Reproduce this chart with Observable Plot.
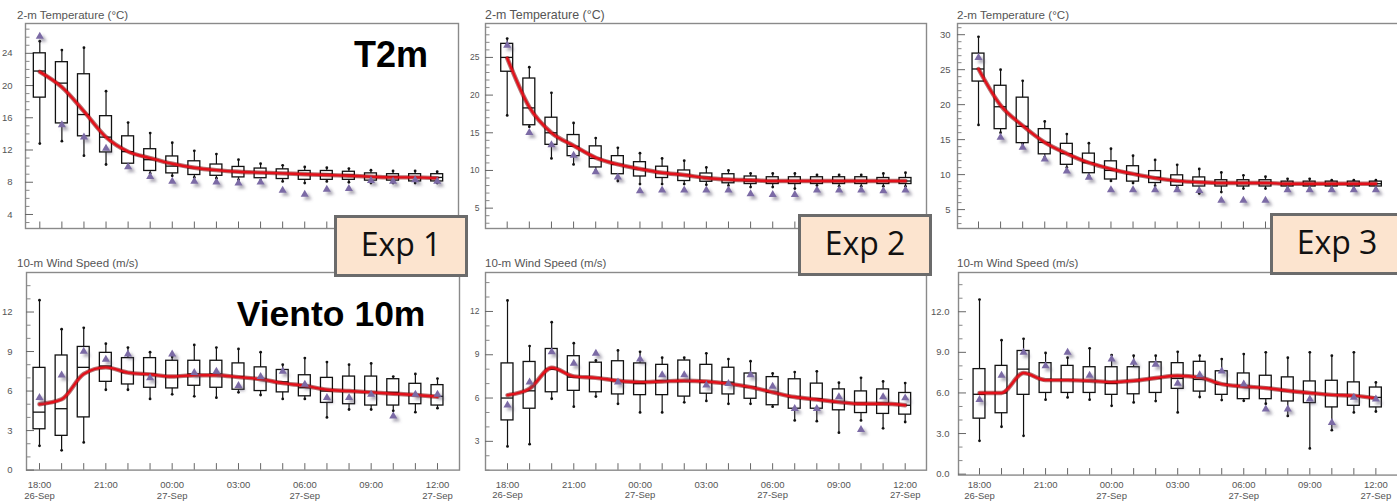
<!DOCTYPE html>
<html><head><meta charset="utf-8">
<script src="https://cdn.jsdelivr.net/npm/d3@7"></script>
<script src="https://cdn.jsdelivr.net/npm/@observablehq/plot@0.6"></script>
<style>
body{margin:0;background:#fff;}
#root{position:relative;width:1397px;height:501px;overflow:hidden;background:#fff;font-family:"Liberation Sans",Arial,sans-serif;}
.ptitle{position:absolute;color:#555;white-space:nowrap;line-height:1;}
.exp{position:absolute;width:128px;height:56px;background:#fce4cf;border:3px solid #6b6b6b;font-family:"Open Sans",sans-serif;font-size:32px;color:#111;display:flex;align-items:center;justify-content:center;box-sizing:content-box;}
.exp span{position:relative;top:-3px;}
.big{position:absolute;font-weight:bold;line-height:1;color:#000;white-space:nowrap;}
</style></head><body><div id="root"></div><script>
// ---- categories ----
const times = ["18:00","19:00","20:00","21:00","22:00","23:00","00:00","01:00","02:00","03:00","04:00","05:00","06:00","07:00","08:00","09:00","10:00","11:00","12:00"];
const xTickLabels = ["18:00\n26-Sep","21:00","00:00\n27-Sep","03:00","06:00\n27-Sep","09:00","12:00\n27-Sep"];
const xTickLabelAt = ["18:00","21:00","00:00","03:00","06:00","09:00","12:00"];

// ---- tick labels ----
const t2m1Ticks = [4,8,12,16,20,24];
const t2m2Ticks = [5,10,15,20,25];
const t2m3Ticks = [5,10,15,20,25,30];
const wind1Ticks = [0,3,6,9,12];
const wind2Ticks = [3,6,9,12];
const wind3Ticks = [0,3,6,9,12];

// ---- Exp 1, 2-m temperature ----
const t2m1Hi   = [25.5,24.4,24.7,19.3,15.4,14.1,12.9,11.9,11.5,10.8,10.3,10.1,9.9,9.8,9.7,9.5,9.4,9.4,9.3];
const t2m1Q3   = [24.0,22.9,21.4,16.2,13.7,12.1,11.2,10.6,10.2,9.9,9.7,9.6,9.4,9.4,9.3,9.1,9.0,9.0,9.0];
const t2m1Med  = [21.8,20.3,16.4,13.6,11.8,10.8,10.0,9.8,9.5,9.3,9.2,9.1,9.0,9.0,8.9,8.7,8.7,8.6,8.6];
const t2m1Q1   = [18.5,15.3,13.7,11.7,10.3,9.4,9.1,8.9,8.8,8.6,8.5,8.4,8.3,8.3,8.3,8.2,8.2,8.1,8.1];
const t2m1Lo   = [12.8,13.1,11.3,10.2,9.9,9.1,8.8,8.6,8.5,8.3,8.2,8.1,7.9,8.1,8.0,7.9,7.9,7.9,7.9];
const t2m1Obs  = [26.1,15.1,13.6,12.2,9.9,8.7,8.1,8.1,8.0,7.9,8.0,7.0,6.5,7.1,7.2,8.2,8.1,8.3,8.1];
const t2m1Mean = [21.7,19.8,16.8,13.6,11.8,11.0,10.3,9.8,9.5,9.3,9.2,9.1,9.0,8.9,8.8,8.7,8.6,8.6,8.5];

// ---- Exp 1, 10-m wind ----
const wind1Hi   = [12.9,10.7,10.8,9.6,9.3,8.95,8.6,9.5,9.3,9.2,8.95,8.0,8.5,8.2,8.0,8.1,7.1,7.3,6.95];
const wind1Q3   = [7.76,8.7,9.35,8.9,8.5,8.5,8.3,8.3,8.3,8.1,7.8,7.6,7.2,7.0,7.1,7.1,6.9,6.55,6.45];
const wind1Med  = [4.4,4.66,7.8,7.9,7.4,7.3,7.1,7.3,7.3,7.1,6.9,6.7,6.25,6.0,6.0,5.9,5.9,5.7,5.6];
const wind1Q1   = [3.1,2.6,4.0,6.7,6.5,6.25,6.2,6.4,6.25,6.1,6.0,5.9,5.6,5.1,5.0,4.9,4.9,5.0,4.9];
const wind1Lo   = [1.84,1.5,2.1,6.1,6.1,5.4,5.75,5.6,5.5,5.9,5.7,5.4,5.4,4.0,4.6,4.6,4.5,4.4,4.7];
const wind1Obs  = [5.5,7.2,9.0,8.4,8.8,7.0,8.8,7.4,7.5,6.4,7.1,7.5,6.5,5.5,5.5,5.75,4.1,5.75,5.75];
const wind1Mean = [5.0,5.37,7.3,7.8,7.4,7.26,7.1,7.2,7.2,7.06,6.9,6.6,6.4,6.1,6.0,5.9,5.8,5.7,5.57];

// ---- Exp 2, 2-m temperature ----
const t2m2Hi   = [27.5,23.7,20.3,16.3,14.3,13.0,12.3,11.6,11.3,10.4,10.0,9.6,9.6,9.6,9.4,9.4,9.4,9.6,9.7];
const t2m2Q3   = [26.8,22.2,17.0,14.7,13.2,11.9,11.1,10.5,10.0,9.6,9.5,9.2,9.1,9.1,9.1,9.1,9.1,9.0,9.0];
const t2m2Med  = [25.0,18.3,15.0,13.2,11.6,10.8,10.2,9.7,9.4,9.1,8.8,8.6,8.6,8.6,8.6,8.6,8.6,8.6,8.6];
const t2m2Q1   = [23.1,16.0,13.4,11.9,10.4,9.5,9.2,9.0,8.6,8.5,8.3,8.2,8.2,8.2,8.2,8.2,8.2,8.2,8.2];
const t2m2Lo   = [17.3,15.8,11.6,10.8,10.0,8.6,8.2,8.2,8.2,8.1,8.0,7.8,7.8,7.6,8.0,7.9,7.9,7.9,7.9];
const t2m2Obs  = [26.6,15.0,13.4,12.0,9.8,9.1,7.3,7.4,7.4,7.4,7.4,6.9,6.8,6.8,7.4,7.4,7.4,7.3,7.4];
const t2m2Mean = [24.9,18.4,15.0,13.3,11.7,10.8,10.2,9.7,9.4,9.0,8.8,8.7,8.6,8.6,8.6,8.6,8.6,8.6,8.6];

// ---- Exp 2, 10-m wind ----
const wind2Hi   = [12.76,9.6,11.26,9.8,8.6,9.3,9.2,8.8,8.8,9.1,8.7,8.55,7.7,7.8,7.85,7.06,7.4,7.15,7.04];
const wind2Q3   = [8.4,8.5,9.4,8.9,8.45,8.55,8.4,8.3,8.6,8.3,8.1,7.7,7.45,7.3,7.0,6.6,6.46,6.6,6.35];
const wind2Med  = [6.0,6.5,8.0,7.45,7.4,7.2,7.0,7.2,7.2,7.1,7.1,6.76,6.4,6.07,5.95,5.7,5.65,5.65,5.5];
const wind2Q1   = [4.45,5.26,6.4,6.5,6.4,6.25,6.2,6.2,6.1,6.3,6.25,5.95,5.5,5.26,5.26,5.15,4.96,4.9,4.85];
const wind2Lo   = [2.65,2.8,5.95,5.4,6.1,5.6,5.0,5.0,5.7,5.8,5.6,5.6,5.4,4.45,4.4,3.6,4.45,3.9,4.34];
const wind2Obs  = [5.5,7.1,9.2,8.4,9.1,7.1,8.7,7.6,7.6,6.9,7.0,7.6,6.8,5.26,5.26,6.07,3.8,6.07,6.0];
const wind2Mean = [6.2,6.65,8.1,7.5,7.4,7.2,7.1,7.15,7.2,7.15,7.0,6.76,6.4,6.07,5.9,5.72,5.6,5.6,5.5];

// ---- Exp 3, 2-m temperature ----
const t2m3Hi   = [29.7,25.0,23.4,17.6,15.8,14.5,13.7,12.7,12.1,11.4,10.8,10.3,9.9,9.7,9.4,9.4,9.2,9.2,9.2];
const t2m3Q3   = [27.3,22.7,21.0,16.5,14.4,13.0,11.9,11.2,10.5,9.9,9.6,9.2,9.2,9.2,9.0,9.0,9.0,9.0,9.0];
const t2m3Med  = [25.1,19.7,16.9,14.6,13.0,11.7,10.6,10.1,9.6,9.1,8.9,8.8,8.8,8.8,8.7,8.7,8.7,8.7,8.7];
const t2m3Q1   = [23.3,16.5,14.5,12.9,11.4,10.2,9.3,9.0,8.8,8.4,8.3,8.3,8.3,8.3,8.3,8.3,8.3,8.3,8.3];
const t2m3Lo   = [17.1,16.0,14.4,12.5,11.0,9.9,9.1,8.8,8.4,8.2,7.3,7.5,8.0,8.0,8.0,8.0,8.0,8.0,8.0];
const t2m3Obs  = [26.7,15.3,13.9,12.2,10.5,9.6,7.8,7.8,7.8,7.8,7.7,6.3,6.3,6.3,7.8,7.8,7.8,7.8,7.8];
const t2m3Mean = [25.1,19.9,17.0,14.6,13.0,11.7,10.8,10.1,9.5,9.1,8.9,8.8,8.8,8.8,8.7,8.7,8.7,8.7,8.7];

// ---- Exp 3, 10-m wind ----
const wind3Hi   = [12.9,9.9,10.0,8.95,8.6,9.3,8.8,8.75,8.75,9.04,8.75,8.5,8.87,9.0,8.6,9.0,8.75,9.0,6.78];
const wind3Q3   = [7.76,8.0,9.1,8.2,8.0,7.9,7.9,7.9,8.26,8.2,8.3,7.6,7.44,7.27,7.15,6.85,6.9,6.78,6.4];
const wind3Med  = [5.9,6.0,7.76,7.0,6.95,6.9,6.7,6.9,7.07,7.07,7.0,6.65,6.48,6.4,6.16,6.0,5.86,5.8,5.67];
const wind3Q1   = [4.1,4.5,5.86,6.0,6.0,6.0,5.86,5.9,6.0,6.3,6.1,5.86,5.54,5.54,5.37,5.25,4.93,5.05,4.93];
const wind3Lo   = [2.46,3.5,2.83,5.5,5.67,5.5,5.05,5.3,5.4,4.56,5.7,5.47,5.42,5.2,4.3,1.9,3.25,4.56,4.63];
const wind3Obs  = [5.5,7.3,9.0,8.0,9.0,7.3,8.5,8.25,8.1,6.7,7.34,7.6,6.65,4.8,4.8,5.54,3.8,5.67,5.54];
const wind3Mean = [6.0,6.0,7.47,6.95,6.95,6.9,6.8,6.9,7.1,7.27,7.15,6.65,6.48,6.36,6.16,6.0,5.86,5.8,5.6];

// ---- layout (pixels) ----
const root = document.getElementById("root");
const panels = [
  {FL:25, FR:458, FT:23, FB:228, t0:39.3, t18:436.7, yd:[2.26,27.7], ticks:t2m1Ticks, pad:13, fs:9.5, fmt:d=>String(d),
   s:{hi:t2m1Hi,q3:t2m1Q3,med:t2m1Med,q1:t2m1Q1,lo:t2m1Lo,obs:t2m1Obs,mean:t2m1Mean},
   title:"2-m Temperature (°C)", tx:17, tb:19.5, tfs:11.5, bottom:false},
  {FL:26, FR:459, FT:271.7, FB:469.3, t0:39, t18:437, yd:[0,15], ticks:wind1Ticks, pad:14, fs:9.5, fmt:d=>String(d),
   s:{hi:wind1Hi,q3:wind1Q3,med:wind1Med,q1:wind1Q1,lo:wind1Lo,obs:wind1Obs,mean:wind1Mean},
   title:"10-m Wind Speed (m/s)", tx:17, tb:267.5, tfs:11.5, bottom:true},
  {FL:485, FR:926, FT:22.7, FB:227.7, t0:506.7, t18:905, yd:[2.3,29.5], ticks:t2m2Ticks, pad:6, fs:8.5, fmt:d=>String(d),
   s:{hi:t2m2Hi,q3:t2m2Q3,med:t2m2Med,q1:t2m2Q1,lo:t2m2Lo,obs:t2m2Obs,mean:t2m2Mean},
   title:"2-m Temperature (°C)", tx:485, tb:19, tfs:12.4, bottom:false},
  {FL:485, FR:926, FT:272.3, FB:470, t0:507, t18:904.7, yd:[1.0,14.7], ticks:wind2Ticks, pad:6, fs:8.5, fmt:d=>String(d),
   s:{hi:wind2Hi,q3:wind2Q3,med:wind2Med,q1:wind2Q1,lo:wind2Lo,obs:wind2Obs,mean:wind2Mean},
   title:"10-m Wind Speed (m/s)", tx:485, tb:267.5, tfs:11.5, bottom:true},
  {FL:957.3, FR:1399, FT:22.7, FB:227.7, t0:978.3, t18:1375.7, yd:[2.3,31.6], ticks:t2m3Ticks, pad:7, fs:9.5, fmt:d=>String(d),
   s:{hi:t2m3Hi,q3:t2m3Q3,med:t2m3Med,q1:t2m3Q1,lo:t2m3Lo,obs:t2m3Obs,mean:t2m3Mean},
   title:"2-m Temperature (°C)", tx:957, tb:19, tfs:11.6, bottom:false},
  {FL:958.3, FR:1399, FT:271.7, FB:474.3, t0:979.3, t18:1375.7, yd:[-0.07,14.9], ticks:wind3Ticks, pad:9, fs:9.5, fmt:d=>d.toFixed(1),
   s:{hi:wind3Hi,q3:wind3Q3,med:wind3Med,q1:wind3Q1,lo:wind3Lo,obs:wind3Obs,mean:wind3Mean},
   title:"10-m Wind Speed (m/s)", tx:957, tb:267.5, tfs:11.5, bottom:true}
];

panels.forEach((p, pi) => {
  const step = (p.t18 - p.t0) / 18;
  const xd = [(p.FL - p.t0) / step, 18 + (p.FR - p.t18) / step];
  const W = p.FR - p.FL, H = p.FB - p.FT;
  const kx = (xd[1] - xd[0]) / W, ky = (p.yd[1] - p.yd[0]) / H;
  const data = times.map((lab, i) => ({t: i, lab, hi: p.s.hi[i], q3: p.s.q3[i], med: p.s.med[i], q1: p.s.q1[i], lo: p.s.lo[i], obs: p.s.obs[i], mean: p.s.mean[i]}));
  const minor = d3.range(Math.ceil(p.yd[0]), p.yd[1]).filter(v => !p.ticks.includes(v));
  const idx = times.map((_, i) => i);
  const mL = 40, mR = 2, mT = 2, mB = p.bottom ? 40 : 4;
  const hw = 0.27;
  const marks = [
    Plot.frame({stroke: "#8a8a8a", strokeWidth: 1.4}),
    Plot.ruleY(p.ticks, {y: d => d, x1: () => xd[0], x2: () => xd[0] + 8 * kx, stroke: "#666", strokeWidth: 1}),
    Plot.ruleY(minor, {y: d => d, x1: () => xd[0], x2: () => xd[0] + 4.5 * kx, stroke: "#888", strokeWidth: 1}),
    Plot.axisY(p.ticks, {anchor: "left", tickSize: 0, tickPadding: p.pad, fontSize: p.fs, tickFormat: p.fmt, color: "#555", label: null}),
    Plot.ruleX(idx, {x: d => d, y1: () => p.yd[0], y2: () => p.yd[0] + 6.5 * ky, stroke: "#666", strokeWidth: 1}),
    Plot.ruleX(data, {x: "t", y1: "lo", y2: "hi", stroke: "#111", strokeWidth: 1.2}),
    Plot.dot(data, {x: "t", y: "hi", r: 1.4, fill: "#111"}),
    Plot.dot(data, {x: "t", y: "lo", r: 1.4, fill: "#111"}),
    Plot.rect(data, {x1: d => d.t - hw, x2: d => d.t + hw, y1: "q1", y2: "q3", fill: "white", stroke: "#111", strokeWidth: 1.3}),
    Plot.ruleY(data, {y: "med", x1: d => d.t - hw, x2: d => d.t + hw, stroke: "#111", strokeWidth: 1.3}),
    Plot.line(data, {x: "t", y: "mean", stroke: "#7a0000", strokeOpacity: 0.55, strokeWidth: 4.4, curve: "monotone-x"}),
    Plot.line(data, {x: "t", y: "mean", stroke: "#e3101a", strokeWidth: 2.4, curve: "monotone-x"}),
    Plot.dot(data, {x: "t", y: "obs", symbol: "triangle", r: 3, fill: "#55506a", fillOpacity: 0.5, dx: 3, dy: 3, ariaDescription: "shadow"}),
    Plot.dot(data, {x: "t", y: "obs", symbol: "triangle", r: 3, fill: "#7b6aa5"})
  ];
  if (p.bottom) {
    marks.push(Plot.text(xTickLabelAt, {x: d => times.indexOf(d), text: (d, i) => xTickLabels[i], frameAnchor: "bottom", lineAnchor: "top", dy: 480.3 - p.FB, fontSize: 9.5, fill: "#555", lineHeight: 1.08}));
  }
  const chart = Plot.plot({
    width: W + mL + mR, height: H + mT + mB,
    marginLeft: mL, marginRight: mR, marginTop: mT, marginBottom: mB,
    x: {domain: xd, axis: null},
    y: {domain: p.yd},
    style: {background: "transparent", overflow: "visible", fontFamily: "'Liberation Sans', Arial, sans-serif"},
    marks
  });
  chart.style.position = "absolute";
  chart.style.left = (p.FL - mL) + "px";
  chart.style.top = (p.FT - mT) + "px";
  const svg = d3.select(chart);
  const fid = "blur" + pi;
  svg.insert("defs", ":first-child").append("filter").attr("id", fid).attr("x", "-50%").attr("y", "-50%").attr("width", "200%").attr("height", "200%")
    .append("feGaussianBlur").attr("stdDeviation", 1.6);
  svg.selectAll('g[aria-description="shadow"]').attr("filter", `url(#${fid})`);
  root.appendChild(chart);

  const t = document.createElement("div");
  t.className = "ptitle";
  t.textContent = p.title;
  t.style.fontSize = p.tfs + "px";
  t.style.left = p.tx + "px";
  t.style.top = (p.tb - 0.8465 * p.tfs) + "px";
  root.appendChild(t);
});

// Exp boxes
[["Exp 1", 334, 215], ["Exp 2", 798, 214], ["Exp 3", 1270, 213]].forEach(([txt, x, y]) => {
  const b = document.createElement("div");
  b.className = "exp";
  b.style.left = x + "px"; b.style.top = y + "px";
  const s = document.createElement("span"); s.textContent = txt; b.appendChild(s);
  root.appendChild(b);
});
// Big labels
[["T2m", 354, 67.3, 36], ["Viento 10m", 236.7, 327.3, 35.5]].forEach(([txt, x, base, fs]) => {
  const d = document.createElement("div");
  d.className = "big";
  d.textContent = txt;
  d.style.fontSize = fs + "px";
  d.style.left = x + "px";
  d.style.top = (base - 0.8465 * fs) + "px";
  root.appendChild(d);
});
</script></body></html>
